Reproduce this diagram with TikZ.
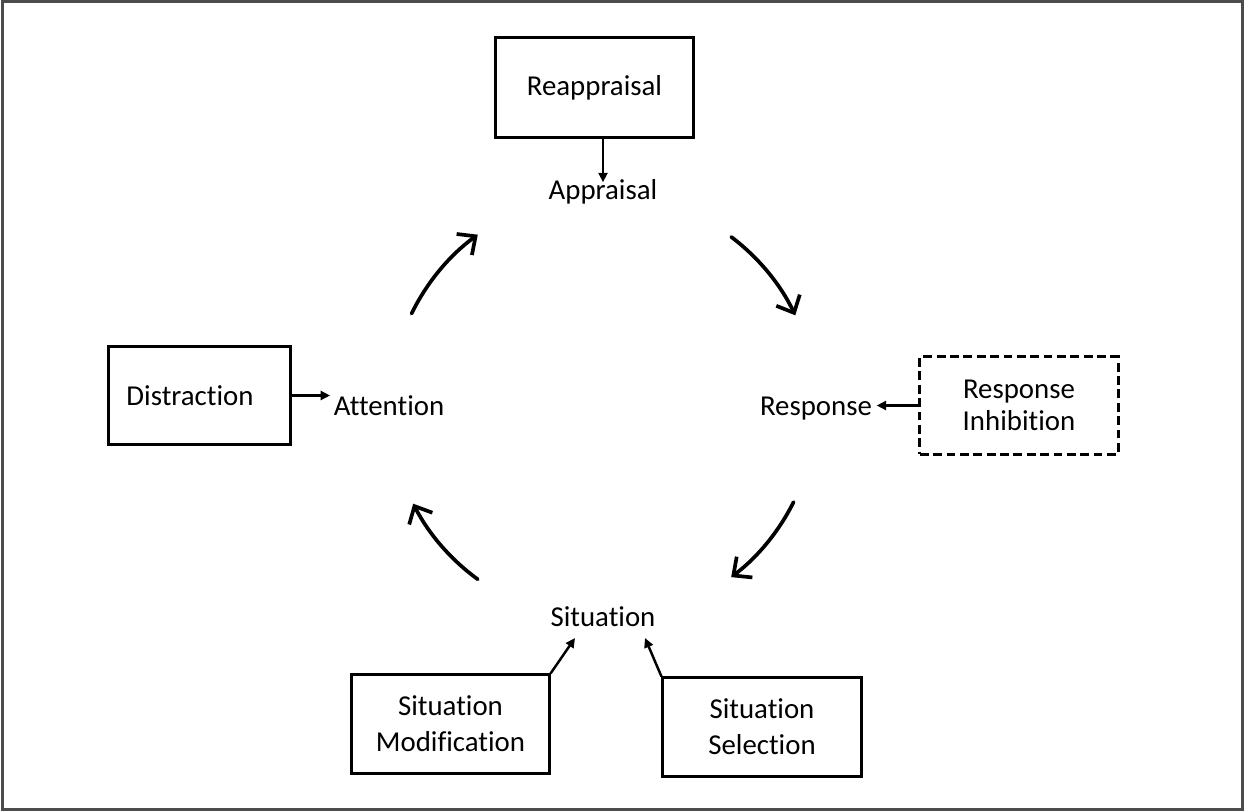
\documentclass[tikz,border=0pt]{standalone}
\usepackage{fontspec}
\setmainfont{Carlito}[RawFeature={-liga;-clig;-dlig}]
\usetikzlibrary{arrows.meta}
\begin{document}
\begin{tikzpicture}[x=0.01cm,y=0.01cm,
  every node/.style={font=\fontsize{8.2}{10.2}\selectfont},
  box/.style={draw, line width=0.85pt, minimum width=#1, inner sep=0pt, align=center},
  lbl/.style={inner sep=0pt, anchor=base},
  cyc/.style={line width=1.05pt, line cap=round, -{Straight Barb[length=1.4mm,width=2.6mm]}},
  sarr/.style={line width=0.7pt, -{Triangle[length=0.95mm,width=0.9mm]}}
]
\useasboundingbox (0,0) rectangle (1245,811);
\draw[black!70, line width=0.6pt] (2.5,1.5) rectangle (1242.5,809.5);

% boxes and labels
\node[box=1.97cm, minimum height=0.99cm] (reap) at (594.5,723.5) {Reappraisal};
\node[lbl] (app) at (603,612) {Appraisal};
\node[box=1.81cm, minimum height=0.97cm] (dis) at (199.5,415.5) {};
\node (distxt) at (190,415.5) {Distraction};
\node[lbl] (att) at (389,396) {Attention};
\node[lbl] (resp) at (816,396) {Response};
\node[box=1.98cm, minimum height=0.97cm, dash pattern=on 2.5pt off 1.3pt,
      font=\fontsize{8.2}{9}\selectfont] (rin) at (1019,405.5) {Response\\Inhibition};
\node[lbl] (sit) at (603,185) {Situation};
\node[box=1.97cm, minimum height=0.98cm] (smod) at (450.5,87) {Situation\\Modification};
\node[box=1.98cm, minimum height=0.98cm] (ssel) at (762,84) {Situation\\Selection};

% cycle arrows
\coordinate (c) at (603,404);
\draw[cyc] (c) ++(154:213) arc[start angle=154, end angle=126, radius=213];
\draw[cyc] (c) ++(53:213) arc[start angle=53, end angle=25.5, radius=213];
\draw[cyc] (c) ++(-26.5:213) arc[start angle=-26.5, end angle=-53, radius=213];
\draw[cyc] (c) ++(234:213) arc[start angle=234, end angle=207, radius=213];

% small arrows
\draw[sarr, shorten >=-0.04cm] (reap.south -| app.north) -- (app.north);
\draw[sarr, shorten >=0.03cm] (dis.east) -- (dis.east -| att.west);
\draw[sarr, shorten >=0.04cm] (rin.west) -- (rin.west -| resp.east);
\coordinate (sitL) at (575,173);
\coordinate (sitR) at (645,173);
\draw[sarr] (smod.north east) -- (sitL);
\draw[sarr] (ssel.north west) -- (sitR);
\end{tikzpicture}
\end{document}
